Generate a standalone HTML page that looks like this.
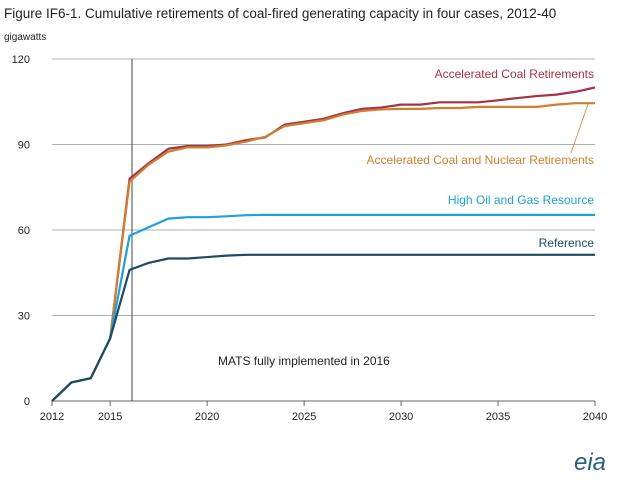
<!DOCTYPE html>
<html><head><meta charset="utf-8"><style>
body{margin:0;background:#fff;font-family:"Liberation Sans",sans-serif}
</style></head><body>
<svg id="c" width="618" height="483" xmlns="http://www.w3.org/2000/svg" font-family="Liberation Sans, sans-serif">
<text x="4" y="18" font-size="13.5" fill="#222">Figure IF6-1. Cumulative retirements of coal-fired generating capacity in four cases, 2012-40</text>
<text x="4" y="40" font-size="10" fill="#222">gigawatts</text>
<g id="grid"></g><g id="ticks"></g>
<line x1="132" y1="59" x2="132" y2="401" stroke="#444" stroke-width="1"/>
<text x="218" y="365" font-size="12" fill="#222">MATS fully  implemented in 2016</text>
<g id="series"></g>
<text x="594" y="78" font-size="12" fill="#a33346" text-anchor="end">Accelerated Coal Retirements</text>
<text x="594" y="164" font-size="12" fill="#cf7f30" text-anchor="end">Accelerated Coal and Nuclear Retirements</text>
<line x1="571" y1="153" x2="588" y2="104" stroke="#cf7f30" stroke-width="0.8"/>
<text x="594" y="204" font-size="12" fill="#1ea0dc" text-anchor="end">High Oil and Gas Resource</text>
<text x="594" y="247" font-size="12" fill="#1e4a63" text-anchor="end">Reference</text>
<text x="574" y="470" font-size="24" fill="#2a5d80" font-style="italic">eia</text>
</svg>
<script>
const years=[2012,2013,2014,2015,2016,2017,2018,2019,2020,2021,2022,2023,2024,2025,2026,2027,2028,2029,2030,2031,2032,2033,2034,2035,2036,2037,2038,2039,2040];
const yTicks=[0,30,60,90,120];
const xTicks=[2012,2015,2020,2025,2030,2035,2040];
const reference=[0,6.5,8,22,46,48.5,50,50,50.5,51,51.3,51.3,51.3,51.3,51.3,51.3,51.3,51.3,51.3,51.3,51.3,51.3,51.3,51.3,51.3,51.3,51.3,51.3,51.3];
const highOilGas=[0,6.5,8,22,58,61,64,64.5,64.5,64.8,65.2,65.3,65.3,65.3,65.3,65.3,65.3,65.3,65.3,65.3,65.3,65.3,65.3,65.3,65.3,65.3,65.3,65.3,65.3];
const accelCoal=[0,6.5,8,22,78,83.5,88.5,89.5,89.5,90,91.5,92.5,97,98,99,101,102.5,103,104,104,104.8,104.8,104.8,105.5,106.3,107,107.5,108.5,110];
const accelCoalNuclear=[0,6.5,8,22,77,83,87.5,89,89,89.7,91,92.7,96.5,97.5,98.5,100.5,101.8,102.3,102.5,102.5,102.8,102.8,103.2,103.2,103.2,103.2,104,104.5,104.5];
const NS='http://www.w3.org/2000/svg';
const x=v=>52+(v-2012)*(595-52)/28;
const y=v=>401-v*(401-59)/120;
function mk(t,p,a){const e=document.createElementNS(NS,t);for(const k in a)e.setAttribute(k,a[k]);p.appendChild(e);return e;}
const grid=document.getElementById('grid'),ticks=document.getElementById('ticks'),ser=document.getElementById('series');
yTicks.forEach(v=>{
 if(v>0){const l=mk('line',grid,{x1:52,x2:595,y1:y(v),y2:y(v),stroke:'#b0b0b0','stroke-width':1});
 
 }
 const t=mk('text',ticks,{x:30,y:y(v)+4,'font-size':11,fill:'#222','text-anchor':'end'});t.textContent=v;
 
 
});
const ax=mk('line',ticks,{x1:52,x2:595,y1:401,y2:401,stroke:'#666','stroke-width':1});


xTicks.forEach(v=>{
 const tk=mk('line',ticks,{x1:x(v),x2:x(v),y1:401,y2:406,stroke:'#666'});
 
 
 const t=mk('text',ticks,{x:x(v),y:420,'font-size':11,fill:'#222','text-anchor':'middle'});t.textContent=v;
 
 
});
[[accelCoal,'#a33346','accelerated-coal-line'],[accelCoalNuclear,'#cf7f30','accelerated-coal-nuclear-line'],[highOilGas,'#1ea0dc','high-oil-gas-line'],[reference,'#1e4a63','reference-line']].forEach(([d,c,n])=>{
 const p=mk('polyline',ser,{points:d.map((v,i)=>x(years[i])+','+y(v)).join(' '),fill:'none',stroke:c,'stroke-width':2.2,'stroke-linejoin':'round'});
 
 
});
</script>
</body></html>
